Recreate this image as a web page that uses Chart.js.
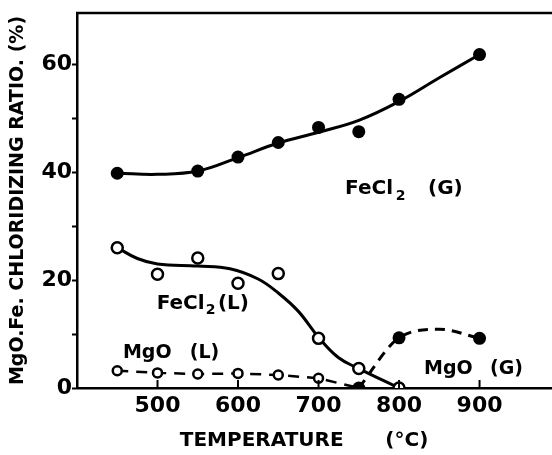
<!DOCTYPE html>
<html><head><meta charset="utf-8">
<script src="https://cdn.jsdelivr.net/npm/chart.js@4/dist/chart.umd.min.js"></script>
<style>html,body{margin:0;padding:0;background:#fff}</style>
</head><body>
<canvas id="c" width="552" height="455"></canvas>
<script>
const FONT = "'DejaVu Sans', sans-serif";
// axis ticks
const xTickValues = [400, 500, 600, 700, 800, 900];
const xTickLabels = [500, 600, 700, 800, 900];
const yTickValues = [0, 10, 20, 30, 40, 50, 60];
const yTickLabels = [0, 20, 40, 60];
// FeCl2 (G) measured points and fitted curve
const feG_T = [450, 550, 600, 650, 700, 750, 800, 900];
const feG_ratio = [39.8, 40.2, 42.8, 45.5, 48.3, 47.5, 53.5, 61.8];
const feGfit_T = [450, 500, 550, 600, 650, 700, 750, 800, 850, 900];
const feGfit_ratio = [39.8, 39.6, 40.2, 42.7, 45.4, 47.4, 49.6, 53.1, 57.5, 61.8];
// FeCl2 (L)
const feL_T = [450, 500, 550, 600, 650, 700, 750, 800];
const feL_ratio = [26.0, 21.1, 24.1, 19.4, 21.2, 9.2, 3.6, 0];
const feLfit_T = [450, 475, 500, 550, 590, 625, 650, 675, 700, 725, 750, 800];
const feLfit_ratio = [26.0, 24.0, 23.0, 22.6, 22.1, 20.2, 17.6, 14.2, 9.4, 5.6, 3.6, 0];
// MgO (L)
const mgL_T = [450, 500, 550, 600, 650, 700, 750];
const mgL_ratio = [3.2, 2.8, 2.6, 2.7, 2.4, 1.8, 0];
// MgO (G)
const mgG_T = [750, 800, 900];
const mgG_ratio = [0, 9.3, 9.2];
const mgGfit_T = [750, 800, 850, 900];
const mgGfit_ratio = [0, 9.3, 10.9, 9.2];
// curve labels: [text, x, y, font size, subscript?]
const labelParts = [
  ['FeCl', 733, 36.9, 20, false], ['2', 796, 36.9, 14, true], ['(G)', 836, 36.9, 20, false],
  ['FeCl', 499, 15.6, 20, false], ['2', 560, 15.6, 14, true], ['(L)', 575, 15.6, 20, false],
  ['MgO', 457, 6.4, 19, false], ['(L)', 540, 6.4, 19, false],
  ['MgO', 831, 3.5, 19, false], ['(G)', 913, 3.5, 19, false]
];

const pts = (xs, ys) => xs.map((x, i) => ({x: x, y: ys[i]}));

const decor = {
  id: 'decor',
  afterDraw(chart) {
    const ctx = chart.ctx, a = chart.chartArea;
    const xs = chart.scales.x, ys = chart.scales.y;
    ctx.save();
    ctx.strokeStyle = '#000';
    ctx.lineWidth = 2.5;
    ctx.beginPath();
    ctx.moveTo(a.left - 1, a.top);
    ctx.lineTo(chart.width, a.top);
    ctx.stroke();
    ctx.lineWidth = 2;
    xTickLabels.forEach(v => {
      const px = xs.getPixelForValue(v);
      ctx.beginPath();
      ctx.moveTo(px, a.bottom);
      ctx.lineTo(px, a.bottom - 8);
      ctx.stroke();
    });
    ctx.fillStyle = '#000';
    ctx.textAlign = 'left';
    ctx.textBaseline = 'middle';
    labelParts.forEach(([t, x, y, size, sub]) => {
      ctx.font = 'bold ' + size + 'px ' + FONT;
      ctx.fillText(t, xs.getPixelForValue(x), ys.getPixelForValue(y) + (sub ? 7 : 0));
    });
    ctx.restore();
  }
};

new Chart(document.getElementById('c'), {
  type: 'line',
  data: {
    datasets: [
      {data: pts(feG_T, feG_ratio), showLine: false, pointRadius: 6.5, pointBackgroundColor: '#000', pointBorderColor: '#000', pointBorderWidth: 0},
      {data: pts(feL_T, feL_ratio), showLine: false, pointRadius: 5.5, pointBackgroundColor: '#fff', pointBorderColor: '#000', pointBorderWidth: 2.5},
      {data: pts(mgG_T, mgG_ratio), showLine: false, pointRadius: 6.5, pointBackgroundColor: '#000', pointBorderColor: '#000', pointBorderWidth: 0},
      {data: pts(mgL_T, mgL_ratio), borderColor: '#000', borderWidth: 2.5, borderDash: [11, 8], tension: 0,
        pointRadius: [4.5, 4.5, 4.5, 4.5, 4.5, 4.5, 0], pointBackgroundColor: '#fff', pointBorderColor: '#000', pointBorderWidth: 2.5},
      {data: pts(feGfit_T, feGfit_ratio), borderColor: '#000', borderWidth: 3, pointRadius: 0, tension: 0.4},
      {data: pts(feLfit_T, feLfit_ratio), borderColor: '#000', borderWidth: 3, pointRadius: 0, tension: 0.4},
      {data: pts(mgGfit_T, mgGfit_ratio), borderColor: '#000', borderWidth: 3, borderDash: [10, 7], pointRadius: 0, cubicInterpolationMode: 'monotone'}
    ]
  },
  options: {
    responsive: false,
    animation: false,
    devicePixelRatio: 1,
    layout: {padding: {top: 13, right: 0, bottom: 0, left: 0}, autoPadding: false},
    plugins: {legend: {display: false}, tooltip: {enabled: false}},
    scales: {
      x: {
        type: 'linear', min: 400, max: 990,
        afterBuildTicks: s => { s.ticks = xTickValues.map(v => ({value: v})); },
        afterFit: s => { s.height = 67; s.paddingLeft = 0; s.paddingRight = 0; },
        ticks: {autoSkip: false, maxRotation: 0, padding: 5, color: '#000',
          font: {family: FONT, size: 22, weight: 'bold'},
          callback: v => xTickLabels.includes(v) ? String(v) : ''},
        grid: {drawOnChartArea: false, drawTicks: false},
        border: {color: '#000', width: 2.5},
        title: {display: true, text: 'TEMPERATURE      (°C)   ', color: '#000',
          font: {family: FONT, size: 20, weight: 'bold'}, padding: {top: 0, bottom: 2}}
      },
      y: {
        min: 0, max: 69.5,
        afterBuildTicks: s => { s.ticks = yTickValues.map(v => ({value: v})); },
        afterFit: s => { s.width = 77; s.paddingTop = 0; s.paddingBottom = 0; },
        ticks: {autoSkip: false, padding: 0, color: '#000',
          font: {family: FONT, size: 22, weight: 'bold'},
          callback: v => yTickLabels.includes(v) ? String(v) : ''},
        grid: {drawOnChartArea: false, drawTicks: true, tickLength: 5, tickWidth: 2, tickColor: '#000'},
        border: {color: '#000', width: 2.5},
        title: {display: true, text: 'MgO.Fe. CHLORIDIZING RATIO. (%)', color: '#000',
          font: {family: FONT, size: 19, weight: 'bold'}, padding: {top: 6.5, bottom: 0}}
      }
    }
  },
  plugins: [decor]
});
</script>
</body></html>
